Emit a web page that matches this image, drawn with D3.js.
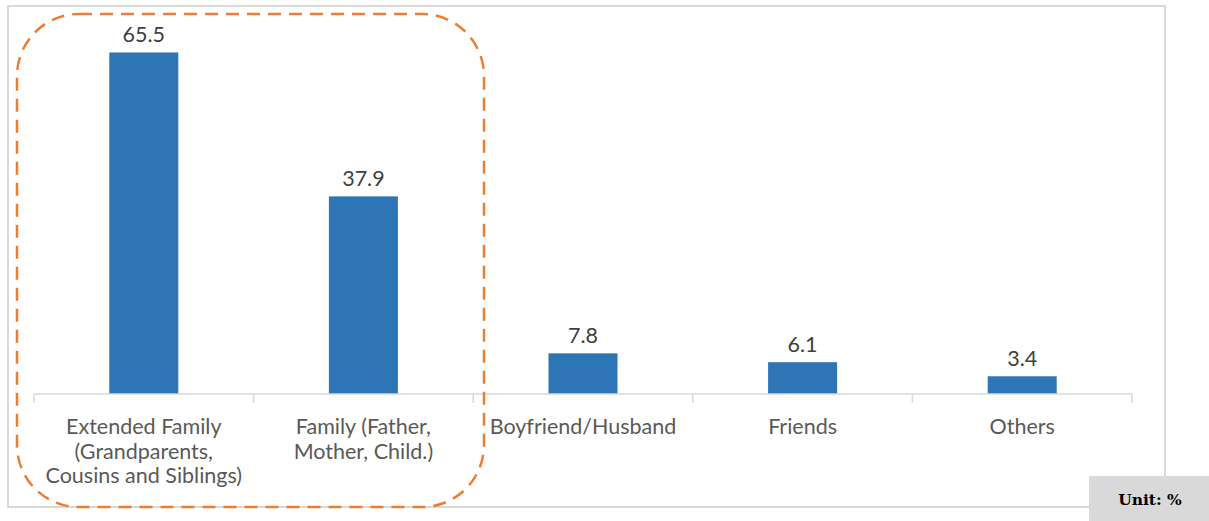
<!DOCTYPE html>
<html>
<head>
<meta charset="utf-8">
<script src="https://cdn.jsdelivr.net/npm/d3@7/dist/d3.min.js"></script>
<style>
  html, body { margin: 0; padding: 0; background: #fff; }
  svg { display: block; }
</style>
</head>
<body>
<script>
// Who respondents turn to: share of answers, in percent
const categories = [
  ["Extended Family", "(Grandparents,", "Cousins and Siblings)"],
  ["Family (Father,", "Mother, Child.)"],
  ["Boyfriend/Husband"],
  ["Friends"],
  ["Others"]
];
const values = [65.5, 37.9, 7.8, 6.1, 3.4];
const unitLabel = "Unit: %";

const W = 1209, H = 521;
const FONT = "Lato, 'Open Sans', sans-serif";
const svg = d3.select("body").append("svg").attr("width", W).attr("height", H);

// chart frame
svg.append("rect")
  .attr("x", 8).attr("y", 6).attr("width", 1157).attr("height", 501)
  .attr("fill", "#fff").attr("stroke", "#d9d9d9").attr("stroke-width", 2);

const x = d3.scaleBand().domain(d3.range(categories.length)).range([34, 1132]).paddingInner(0).paddingOuter(0);
const y = d3.scaleLinear().domain([0, 70]).range([394, 29]);
const barW = 69;

// bars
svg.selectAll("rect.bar").data(values).enter().append("rect")
  .attr("class", "bar")
  .attr("x", (d, i) => x(i) + x.bandwidth() / 2 - barW / 2)
  .attr("y", d => y(d))
  .attr("width", barW)
  .attr("height", d => y(0) - y(d))
  .attr("fill", "#2e75b6");

// value labels
svg.selectAll("text.val").data(values).enter().append("text")
  .attr("class", "val")
  .attr("x", (d, i) => x(i) + x.bandwidth() / 2)
  .attr("y", d => y(d) - 10.5)
  .attr("text-anchor", "middle")
  .attr("font-family", FONT)
  .attr("font-size", 21.5)
  .attr("fill", "#404040")
  .text(d => d.toFixed(1));

// category axis
const axis = svg.append("g").attr("transform", `translate(0,${y(0)})`);
axis.append("line").attr("x1", 34).attr("x2", 1132).attr("y1", 0).attr("y2", 0)
  .attr("stroke", "#d9d9d9").attr("stroke-width", 1.5);
const tickXs = d3.range(categories.length + 1).map(i => i < categories.length ? x(i) : x(i - 1) + x.bandwidth());
axis.selectAll("line.tick").data(tickXs).enter().append("line")
  .attr("class", "tick")
  .attr("x1", d => d).attr("x2", d => d).attr("y1", 0).attr("y2", 9)
  .attr("stroke", "#d9d9d9").attr("stroke-width", 1.5);

const labels = svg.selectAll("text.cat").data(categories).enter().append("text")
  .attr("class", "cat")
  .attr("text-anchor", "middle")
  .attr("font-family", FONT)
  .attr("font-size", 21.5)
  .attr("fill", "#595959");
labels.each(function (lines, i) {
  d3.select(this).selectAll("tspan").data(lines).enter().append("tspan")
    .attr("x", x(i) + x.bandwidth() / 2)
    .attr("y", (d, j) => 434 + j * 24.5)
    .text(d => d);
});

// dashed highlight around the family categories
svg.append("rect")
  .attr("x", 17).attr("y", 14).attr("width", 467).attr("height", 493)
  .attr("rx", 62).attr("ry", 62)
  .attr("fill", "none")
  .attr("stroke", "#ed7d31").attr("stroke-width", 2.5)
  .attr("stroke-dasharray", "13,8");

// unit box
svg.append("rect").attr("x", 1089).attr("y", 476).attr("width", 120).attr("height", 45).attr("fill", "#d9d9d9");
svg.append("text")
  .attr("x", 1150).attr("y", 505)
  .attr("text-anchor", "middle")
  .attr("font-family", "'DejaVu Serif', 'Liberation Serif', serif")
  .attr("font-weight", "bold")
  .attr("font-size", 15.5)
  .attr("fill", "#000")
  .text(unitLabel);
</script>
</body>
</html>
